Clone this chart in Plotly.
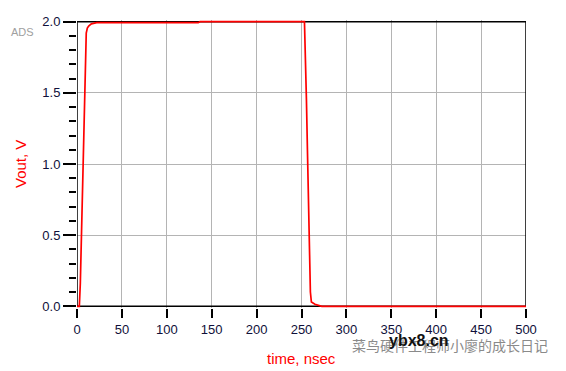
import plotly.graph_objects as go

# Data (time in nsec, Vout in V)
time_ns = [0, 2.6, 3.7, 4.8, 5.9, 7.0, 8.1, 9.2, 10.3, 11.5, 13, 16, 22, 135,
           137, 253.3, 254.4, 255.5, 256.6, 257.7, 258.8, 259.9, 261, 265, 272.6, 500]
vout = [0, 0, 0.16, 0.48, 0.75, 1.06, 1.36, 1.65, 1.92, 1.955, 1.97, 1.985, 1.993, 1.993,
        2.0, 2.0, 1.77, 1.45, 1.10, 0.76, 0.39, 0.10, 0.03, 0.014, 0.0, 0.0]

x_ticks = [0, 50, 100, 150, 200, 250, 300, 350, 400, 450, 500]
y_ticks = [0.0, 0.5, 1.0, 1.5, 2.0]

X_MIN, X_MAX = 0, 500
Y_MIN, Y_MAX = 0.0, 2.0
Y_PAD = 0.012  # small pad so the red trace is not clipped where it runs along the frame

FONT = "Liberation Sans, Arial, sans-serif"
TICKCOL = "#10103a"

fig = go.Figure()
fig.add_trace(go.Scatter(x=time_ns, y=vout, mode="lines",
                         line=dict(color="#ff0000", width=1.7),
                         cliponaxis=False, hoverinfo="skip"))

fig.update_layout(
    width=566, height=371,
    margin=dict(l=77, r=40, t=20, b=63),
    paper_bgcolor="white", plot_bgcolor="white",
    showlegend=False,
    font=dict(family=FONT, size=13, color=TICKCOL),
)
fig.update_xaxes(
    range=[X_MIN, X_MAX], tickvals=x_ticks, ticktext=[str(v) for v in x_ticks],
    showgrid=True, gridcolor="#b4b4b4", gridwidth=1,
    showline=False,
    ticks="outside", ticklen=9, tickwidth=1.5, tickcolor="black",
    zeroline=False,
    tickfont=dict(family=FONT, size=13, color=TICKCOL),
)
fig.update_yaxes(
    range=[Y_MIN - Y_PAD, Y_MAX + Y_PAD], tickvals=y_ticks,
    ticktext=[f"{v:.1f}" for v in y_ticks],
    showgrid=True, gridcolor="#b4b4b4", gridwidth=1,
    showline=False,
    ticks="outside", ticklen=13, tickwidth=1.5, tickcolor="black",
    minor=dict(dtick=0.1, ticks="outside", ticklen=7, tickwidth=1.5,
               tickcolor="black", showgrid=False),
    zeroline=False, ticklabelstandoff=0,
    tickfont=dict(family=FONT, size=13, color=TICKCOL),
)

# Plot frame beneath the trace (red line covers it where they coincide)
fig.add_shape(type="rect", xref="x", yref="y", x0=X_MIN, x1=X_MAX, y0=Y_MIN, y1=Y_MAX,
              line=dict(color="black", width=1.5), layer="between")

# Axis titles and labels
fig.add_annotation(text="time, nsec", xref="paper", yref="paper", x=0.5, y=0,
                   yanchor="middle", xanchor="center", yshift=-50, showarrow=False,
                   font=dict(family=FONT, size=15, color="#ff0000"))
fig.add_annotation(text="Vout, V", xref="paper", yref="paper", x=0, y=0.5,
                   xanchor="center", yanchor="middle", xshift=-57, textangle=-90,
                   showarrow=False, font=dict(family=FONT, size=15, color="#ff0000"))
fig.add_annotation(text="ADS", xref="paper", yref="paper", x=0, y=1,
                   xanchor="center", yanchor="middle", xshift=-55, yshift=-12,
                   showarrow=False, font=dict(family=FONT, size=11, color="#a0a0a0"))
# Watermarks (they overlap in the reference as well)
fig.add_annotation(text="菜鸟硬件工程师小廖的成长日记", xref="paper", yref="paper",
                   x=0, y=0, xanchor="center", yanchor="middle",
                   xshift=450 - 77, yshift=-(345 - 308), showarrow=False,
                   font=dict(family="Noto Sans CJK SC", size=14, color="#8a8a8a"))
fig.add_annotation(text="<b>ybx8.cn</b>", xref="paper", yref="paper",
                   x=0, y=0, xanchor="center", yanchor="middle",
                   xshift=419 - 77, yshift=-(340 - 308), showarrow=False,
                   font=dict(family=FONT, size=16, color="#111111"))

fig.write_html("out.html")
